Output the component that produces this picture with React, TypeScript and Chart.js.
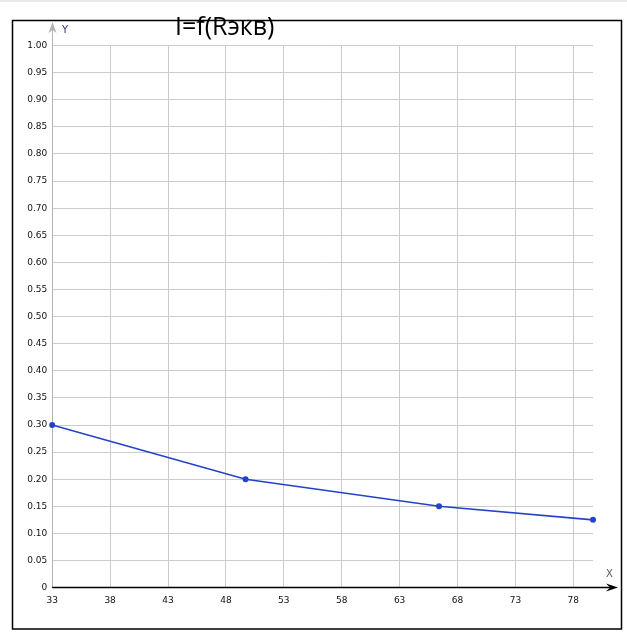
import React, { useEffect, useRef } from "react";
import { Chart, registerables } from "chart.js";

Chart.register(...registerables);

const titleText = "I=f(Rэкв)";
const xValues = [33.3, 50, 66.7, 80];
const yValues = [0.3, 0.2, 0.15, 0.125];
const xTickValues = [33.3, 38.3, 43.3, 48.3, 53.3, 58.3, 63.3, 68.3, 73.3, 78.3];
const xTickLabels = ["33", "38", "43", "48", "53", "58", "63", "68", "73", "78"];
const xMin = 33.3;
const xMax = 80;
const yMin = 0;
const yMax = 1;
const yStep = 0.05;

const W = 627;
const H = 633;

const decorPlugin = {
  id: "decor",
  beforeDatasetsDraw(chart: any) {
    const { ctx, chartArea } = chart;
    const { left, bottom } = chartArea;
    ctx.save();
    ctx.strokeStyle = "#b4b4b4";
    ctx.lineWidth = 1;
    ctx.beginPath();
    ctx.moveTo(Math.round(left) + 0.5, bottom);
    ctx.lineTo(Math.round(left) + 0.5, 30);
    ctx.stroke();
    ctx.fillStyle = "#b4b4b4";
    ctx.beginPath();
    ctx.moveTo(Math.round(left) + 0.5, 22);
    ctx.lineTo(Math.round(left) - 3.5, 33);
    ctx.lineTo(Math.round(left) + 0.5, 30);
    ctx.lineTo(Math.round(left) + 4.5, 33);
    ctx.closePath();
    ctx.fill();
    ctx.strokeStyle = "#000";
    ctx.lineWidth = 1.5;
    ctx.beginPath();
    ctx.moveTo(left, bottom);
    ctx.lineTo(612, bottom);
    ctx.stroke();
    ctx.fillStyle = "#000";
    ctx.beginPath();
    ctx.moveTo(618, bottom);
    ctx.lineTo(606, bottom - 4);
    ctx.lineTo(610, bottom);
    ctx.lineTo(606, bottom + 4);
    ctx.closePath();
    ctx.fill();
    ctx.restore();
  },
  afterDraw(chart: any) {
    const { ctx } = chart;
    ctx.save();
    ctx.fillStyle = "#e8e8e8";
    ctx.fillRect(0, 0, W, 2);
    ctx.strokeStyle = "#000";
    ctx.lineWidth = 1.5;
    ctx.strokeRect(12.5, 20.5, 609, 608.5);
    ctx.font = "10px 'DejaVu Sans'";
    ctx.textAlign = "left";
    ctx.textBaseline = "alphabetic";
    ctx.fillStyle = "#33335a";
    ctx.fillText("Y", 62, 33);
    ctx.fillStyle = "#555566";
    ctx.fillText("X", 606, 577);
    ctx.font = "25px 'Open Sans'";
    ctx.fillStyle = "#000";
    ctx.textAlign = "left";
    ctx.fillText(titleText, 175, 35);
    ctx.restore();
  },
};

export default function App() {
  const ref = useRef<HTMLCanvasElement | null>(null);
  useEffect(() => {
    if (!ref.current) return;
    const chart = new Chart(ref.current, {
      type: "line",
      data: {
        datasets: [
          {
            data: xValues.map((x, i) => ({ x, y: yValues[i] })),
            borderColor: "#2443c9",
            backgroundColor: "#2443c9",
            pointBackgroundColor: "#2443c9",
            pointBorderColor: "#2443c9",
            pointBorderWidth: 0,
            borderWidth: 1.6,
            pointRadius: 3,
            pointHoverRadius: 3,
            tension: 0,
            clip: false,
          } as any,
        ],
      },
      options: {
        animation: false,
        responsive: false,
        devicePixelRatio: 1,
        layout: { padding: { top: 45.6, right: 34, left: 0, bottom: 0 } },
        plugins: {
          legend: { display: false },
          title: { display: false },
          tooltip: { enabled: false },
        },
        scales: {
          x: {
            type: "linear",
            min: xMin,
            max: xMax,
            afterBuildTicks(scale: any) {
              scale.ticks = xTickValues.map((v) => ({ value: v }));
            },
            afterFit(scale: any) {
              scale.height = H - 587.6;
            },
            ticks: {
              autoSkip: false,
              maxRotation: 0,
              padding: 8,
              color: "#111",
              font: { family: "DejaVu Sans", size: 9 },
              callback: (_v: any, i: number) => xTickLabels[i],
            },
            grid: { color: "#cccccc", lineWidth: 1, drawTicks: false },
            border: { display: false },
          },
          y: {
            type: "linear",
            min: yMin,
            max: yMax,
            afterFit(scale: any) {
              scale.width = 52.2;
            },
            ticks: {
              stepSize: yStep,
              padding: 5,
              color: "#111",
              font: { family: "DejaVu Sans", size: 9 },
              callback: (v: any) => (Number(v) === 0 ? "0" : Number(v).toFixed(2)),
            },
            grid: { color: "#cccccc", lineWidth: 1, drawTicks: false },
            border: { display: false },
          },
        },
      },
      plugins: [decorPlugin],
    });
    return () => chart.destroy();
  }, []);
  return (
    <div style={{ position: "absolute", left: 0, top: 0, width: W, height: H, background: "#fff" }}>
      <canvas ref={ref} width={W} height={H} style={{ width: W, height: H, display: "block" }} />
    </div>
  );
}
